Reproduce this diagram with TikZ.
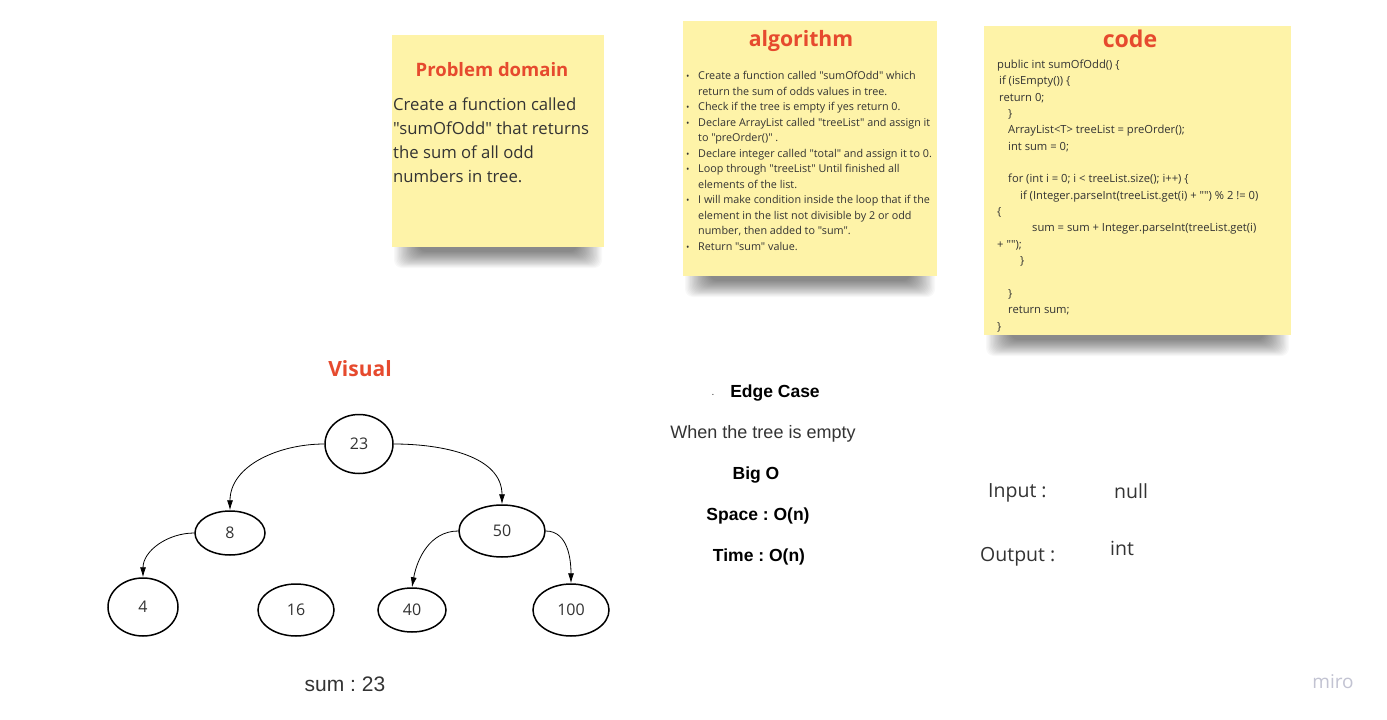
\documentclass[tikz,border=0pt]{standalone}
\usepackage{fontspec}
\setmainfont{Open Sans}[Ligatures=TeXOff]
\newfontfamily\arialf{Liberation Sans}[Ligatures=TeXOff]
\usetikzlibrary{shapes.geometric,arrows.meta}
\definecolor{sticky}{HTML}{FEF3A8}
\definecolor{titlered}{HTML}{E64A2E}
\definecolor{bodytext}{HTML}{333333}
\definecolor{mirogray}{HTML}{C2C3D2}
\tikzset{
  sticky/.style={fill=sticky, draw=none, anchor=north west, inner sep=0pt},
  ttl/.style={text=titlered, font=\bfseries, inner sep=0pt},
  treenode/.style={ellipse, draw=black, line width=1.5pt, inner sep=0pt, text=bodytext,
    font=\fontsize{16}{19}\selectfont},
  edge/.style={draw=black, line width=0.8pt, -{Latex[length=10pt,width=6pt]}},
  plain/.style={inner sep=0pt, text=bodytext},
  shadelayer/.style={fill=black, opacity=0.028, rounded corners=8pt},
}
\newcommand\noteshadow[3]{% left x, right x, bottom y
  \foreach \i in {0,...,19}{
    \fill[shadelayer] (#1+2+1.3*\i,#3+10) rectangle (#2-2-1.3*\i,#3-21+0.85*\i);
  }}
\begin{document}
\frenchspacing
\begin{tikzpicture}[x=1pt,y=1pt]
\useasboundingbox (0,0) rectangle (1387,-720);
\fill[white] (0,0) rectangle (1387,-720);

% shadows under the sticky notes
\noteshadow{392}{604}{-247}
\noteshadow{683}{937}{-276}
\noteshadow{984}{1291}{-335}

% sticky notes
\node[sticky, minimum width=212pt, minimum height=212pt] (pd) at (392,-35) {};
\node[sticky, minimum width=254pt, minimum height=255pt] (alg) at (683,-21) {};
\node[sticky, minimum width=307pt, minimum height=309pt] (code) at (984,-26) {};

% problem domain
\node[ttl, font=\fontsize{18.5}{22}\bfseries\selectfont] (pdt) at (492,-70) {Problem domain};
\node[plain, anchor=north west, align=left, font=\fontsize{16.7}{24}\selectfont] (pdb) at (393,-98)
 {Create a function called\\"sumOfOdd" that returns\\the sum of all odd\\numbers in tree.};

% algorithm
\node[ttl, font=\fontsize{21.2}{26}\bfseries\selectfont] (algt) at (801,-41) {algorithm};
\node[plain, anchor=north west, align=left, font=\fontsize{10.8}{15.55}\selectfont] (algb) at (686,-71)
 {\makebox[12pt][l]{\small•}Create a function called "sumOfOdd" which\\
  \hspace*{12pt}return the sum of odds values in tree.\\
  \makebox[12pt][l]{\small•}Check if the tree is empty if yes return 0.\\
  \makebox[12pt][l]{\small•}Declare ArrayList called "treeList" and assign it\\
  \hspace*{12pt}to "preOrder()" .\\
  \makebox[12pt][l]{\small•}Declare integer called "total" and assign it to 0.\\
  \makebox[12pt][l]{\small•}Loop through "treeList" Until finished all\\
  \hspace*{12pt}elements of the list.\\
  \makebox[12pt][l]{\small•}I will make condition inside the loop that if the\\
  \hspace*{12pt}element in the list not divisible by 2 or odd\\
  \hspace*{12pt}number, then added to "sum".\\
  \makebox[12pt][l]{\small•}Return "sum" value.};

% code
\node[ttl, font=\fontsize{23.1}{28}\bfseries\selectfont] (codet) at (1130,-39) {code};
\node[plain, anchor=north west, align=left, font=\fontsize{11.2}{16.37}\selectfont] (codeb) at (997,-59.5)
 {public int sumOfOdd() \{\\
  \hspace*{2pt}if (isEmpty()) \{\\
  \hspace*{2pt}return 0;\\
  \hspace*{11pt}\}\\
  \hspace*{11pt}ArrayList<T> treeList = preOrder();\\
  \hspace*{11pt}int sum = 0;\\
  \mbox{}\\
  \hspace*{11pt}for (int i = 0; i < treeList.size(); i++) \{\\
  \hspace*{23pt}if (Integer.parseInt(treeList.get(i) + "") \% 2 != 0)\\
  \{\\
  \hspace*{35pt}sum = sum + Integer.parseInt(treeList.get(i)\\
  + "");\\
  \hspace*{23pt}\}\\
  \mbox{}\\
  \hspace*{11pt}\}\\
  \hspace*{11pt}return sum;\\
  \}};

% visual
\node[ttl, font=\fontsize{21}{25}\bfseries\selectfont] (vt) at (360,-369) {Visual};
\node[treenode, minimum width=68pt, minimum height=59pt] (n23) at (359,-444) {23};
\node[treenode, minimum width=70pt, minimum height=44pt] (n8) at (230,-533) {8};
\node[treenode, minimum width=86pt, minimum height=52pt] (n50) at (502,-531) {50};
\node[treenode, minimum width=70pt, minimum height=58pt] (n4) at (143,-607) {4};
\node[treenode, minimum width=76pt, minimum height=52pt] (n16) at (296,-610) {16};
\node[treenode, minimum width=68pt, minimum height=44pt] (n40) at (412,-610) {40};
\node[treenode, minimum width=76pt, minimum height=52pt] (n100) at (571,-610) {100};
\draw[edge] (n23.west) to[out=180,in=90] (n8.north);
\draw[edge] (n23.east) to[out=0,in=90] (n50.north);
\draw[edge] (n8.west) to[out=180,in=90] (n4.north);
\draw[edge] (n50.west) to[out=180,in=80] (n40.north);
\draw[edge] (n50.east) to[out=0,in=90] (n100.north);
\node[plain, font=\arialf\fontsize{21}{24}\selectfont] (sum) at (345,-684) {sum : 23};

% edge case
\node[plain, font=\arialf\fontsize{10}{12}\selectfont] (dot) at (713,-395) {.};
\node[plain, font=\arialf\bfseries\fontsize{17.5}{20}\selectfont, text=black] (ec) at (775,-393) {Edge Case};
\node[plain, font=\arialf\fontsize{18}{21}\selectfont] (empty) at (763,-434) {When the tree is empty};
\node[plain, font=\arialf\bfseries\fontsize{17.5}{20}\selectfont, text=black] (bigo) at (756,-475) {Big O};
\node[plain, font=\arialf\bfseries\fontsize{17.5}{20}\selectfont, text=black] (space) at (758,-516) {Space : O(n)};
\node[plain, font=\arialf\bfseries\fontsize{17.5}{20}\selectfont, text=black] (time) at (759,-557) {Time : O(n)};

% input / output
\node[plain, font=\fontsize{19.5}{23}\selectfont, anchor=west] (inp) at (988,-493) {Input :};
\node[plain, font=\fontsize{19.5}{23}\selectfont, anchor=west] (null) at (1114,-491) {null};
\node[plain, font=\fontsize{19.5}{23}\selectfont, anchor=west] (outp) at (980,-557) {Output :};
\node[plain, font=\fontsize{19.5}{23}\selectfont, anchor=west] (int) at (1110,-548) {int};

\node[inner sep=0pt, text=mirogray, font=\fontsize{19}{22}\selectfont] (miro) at (1333,-682) {miro};
\end{tikzpicture}
\end{document}
